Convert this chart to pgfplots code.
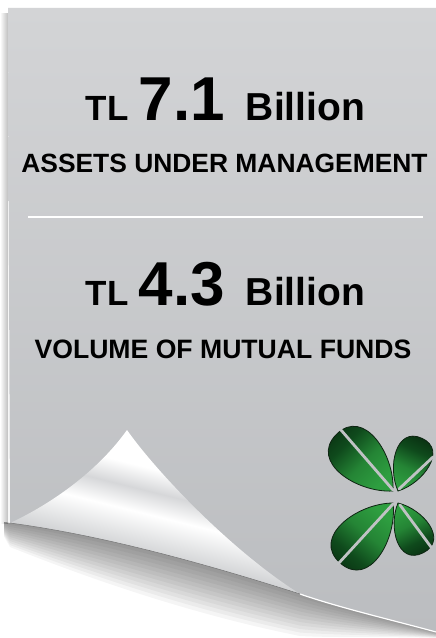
\documentclass[border=0pt]{standalone}
\usepackage{fontspec}
\setmainfont{Liberation Sans}
\usepackage{pgfplots}
\pgfplotsset{compat=1.18}
\definecolor{paperTop}{HTML}{D3D4D6}
\definecolor{paperBot}{HTML}{BBBDC0}
\definecolor{paperLogo}{HTML}{C0C2C4}
\definecolor{leafDark}{HTML}{05200B}
\definecolor{leafMid}{HTML}{0F4A1C}
\definecolor{leafBright}{HTML}{2E9E40}
\definecolor{leafEdge}{HTML}{0E2412}
\definecolor{curlDark}{HTML}{9A9CA0}
\definecolor{curlMid}{HTML}{B8BABD}
\definecolor{curlLight}{HTML}{E4E5E6}
\definecolor{curlBand}{HTML}{D6D7D9}
\pgfdeclareverticalshading{curl}{100bp}{color(0bp)=(curlDark); color(25bp)=(curlDark); color(33bp)=(curlMid); color(43bp)=(curlLight); color(49bp)=(white); color(55bp)=(curlBand); color(61bp)=(white); color(100bp)=(white)}
\pgfdeclareverticalshading{leaf}{100bp}{color(0bp)=(leafBright); color(25bp)=(leafBright); color(40bp)=(leafBright!70!leafMid); color(55bp)=(leafMid); color(75bp)=(leafDark); color(100bp)=(leafDark)}
\begin{document}
\begin{tikzpicture}
\path[use as bounding box] (0,0) rectangle (436bp,638bp);
\begin{axis}[at={(0,0)}, anchor=south west, width=436bp, height=638bp,
  scale only axis, hide axis, xmin=0, xmax=436, ymin=0, ymax=638,
  y dir=reverse, clip=false]
% background
\fill[white] (0,0) rectangle (436,638);
% left edge shadow
\shade[left color=white, right color=black!25] (0,14) rectangle (8,523);
% shadow below the bottom edge
\pgfplotsinvokeforeach{1,...,12}{
  \fill[black, opacity=0.04] (4,522) -- (10,523) .. controls (100,535) and (200,562) .. (300,594)
    .. controls (340,608) and (400,622) .. (436,632) -- (436,{632+0.5*#1})
    .. controls (400,{622+1.2*#1}) and (340,{608+2.5*#1}) .. (300,{594+3.5*#1})
    .. controls (200,{562+4.5*#1}) and (100,{535+4*#1}) .. (10,{523+2*#1}) -- (4,{522+1.2*#1}) -- cycle;
}
% paper
\shade[top color=paperTop, bottom color=paperBot]
  (8,8) -- (436,8) -- (436,632) .. controls (400,622) and (340,608) .. (300,594)
  .. controls (200,562) and (100,535) .. (10,523) -- cycle;
% bright edge at bottom right
\draw[white, line width=1.2bp] (300,594) .. controls (340,608) and (400,622) .. (436,632);
% curl
\shade[shading=curl, shading angle=-14]
  (10,523) .. controls (45,507) and (95,475) .. (127,430)
  .. controls (155,470) and (230,550) .. (300,594)
  .. controls (200,562) and (100,535) .. (10,523) -- cycle;
\draw[gray!85!black, line width=0.5bp] (10,523) .. controls (100,535) and (200,562) .. (300,594);
% separator line
\addplot[white, line width=2bp] coordinates {(28,216.5) (423,216.5)};
% texts
\node[anchor=base, inner sep=0pt] at (225.5,120) {\bfseries{\fontsize{35bp}{35bp}\selectfont TL}\hspace{10bp}{\fontsize{62bp}{62bp}\selectfont 7.1}\hspace{21bp}{\fontsize{39bp}{39bp}\selectfont Billion}};
\node[anchor=base, inner sep=0pt] at (224.5,172) {\bfseries\fontsize{26.4bp}{26.4bp}\selectfont ASSETS UNDER MANAGEMENT};
\node[anchor=base, inner sep=0pt] at (225.5,305) {\bfseries{\fontsize{35bp}{35bp}\selectfont TL}\hspace{10bp}{\fontsize{62bp}{62bp}\selectfont 4.3}\hspace{21bp}{\fontsize{39bp}{39bp}\selectfont Billion}};
\node[anchor=base, inner sep=0pt] at (223,358) {\bfseries\fontsize{26.6bp}{26.6bp}\selectfont VOLUME OF MUTUAL FUNDS};
% logo
\shade[draw=leafEdge, line width=0.8bp, shading=leaf, shading angle=45]
  (393,491) .. controls (356.9,493.1) and (308.9,462.0) .. (336.4,434.4)
  .. controls (364.0,406.9) and (395.1,454.9) .. (393,491) -- cycle;
\shade[draw=leafEdge, line width=0.8bp, shading=leaf, shading angle=-25]
  (398,491) .. controls (423.2,483.3) and (447.8,449.9) .. (421.8,438.2)
  .. controls (395.8,426.5) and (387.1,467.1) .. (398,491) -- cycle;
\shade[draw=leafEdge, line width=0.8bp, shading=leaf, shading angle=140]
  (393,503) .. controls (397.4,538.8) and (369.5,588.7) .. (340.2,563)
  .. controls (311.0,537.3) and (356.9,503.2) .. (393,503) -- cycle;
\shade[draw=leafEdge, line width=0.8bp, shading=leaf, shading angle=-153]
  (398,503) .. controls (423.2,509.0) and (448.7,539.9) .. (423.2,552.8)
  .. controls (397.8,565.7) and (387.9,526.9) .. (398,503) -- cycle;
% gaps between lobes
\draw[paperLogo, line width=2.8bp, line cap=round] (393,490) -- (341,430);
\draw[paperLogo, line width=2.8bp, line cap=round] (399,489) -- (433,457);
\draw[paperLogo, line width=2.8bp, line cap=round] (393,504) -- (338,564);
\draw[paperLogo, line width=2.8bp, line cap=round] (400,505) -- (431,547);
\end{axis}
\end{tikzpicture}
\end{document}
